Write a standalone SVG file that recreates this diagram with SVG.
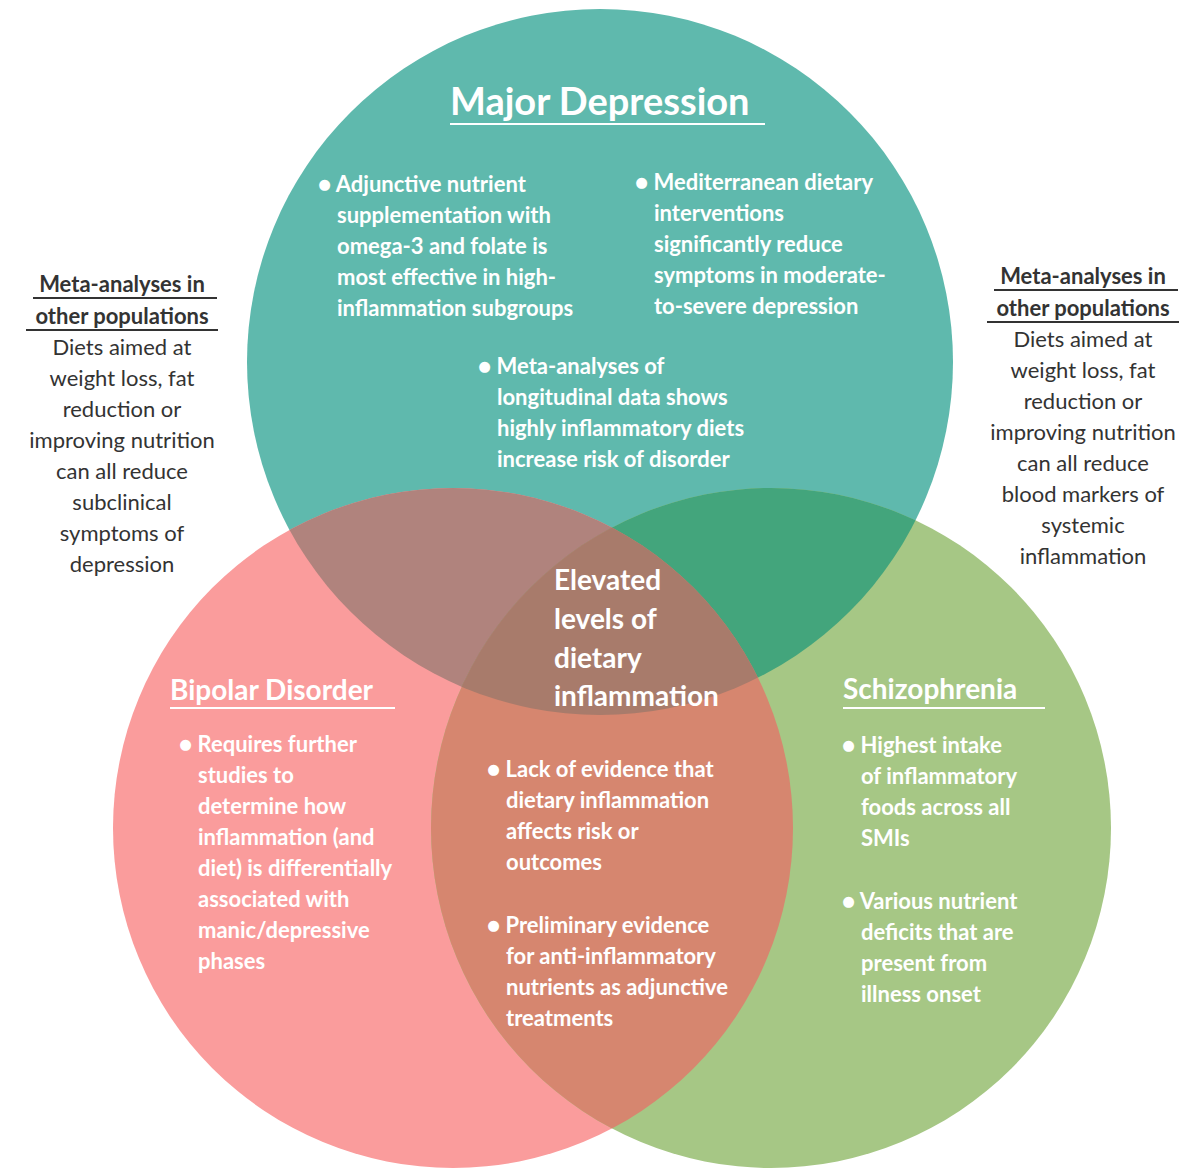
<svg xmlns="http://www.w3.org/2000/svg" width="1200" height="1173" viewBox="0 0 1200 1173">
<style>
.w{font-family:Lato,"Open Sans",sans-serif;font-weight:bold;fill:#fff;font-size:22px}
.h{font-family:Lato,"Open Sans",sans-serif;font-weight:bold;fill:#fff;font-size:28px}
.s{font-family:Lato,"Open Sans",sans-serif;fill:#333;font-size:22px;text-anchor:middle}
.sb{font-weight:bold}
.u{stroke:#fff;stroke-width:2}
.ud{stroke:#333;stroke-width:2}
</style>
<defs>
<clipPath id="cA"><circle cx="600" cy="362" r="353"/></clipPath>
<clipPath id="cB"><circle cx="453" cy="828" r="340"/></clipPath>
<clipPath id="cC"><circle cx="771" cy="828" r="340"/></clipPath>
</defs>
<rect width="1200" height="1173" fill="#fff"/>
<g id="circles">
<circle cx="600" cy="362" r="353" fill="#5fb9ad"/>
<circle cx="453" cy="828" r="340" fill="#fa9c9c"/>
<circle cx="771" cy="828" r="340" fill="#a6c785"/>
<g clip-path="url(#cA)"><circle cx="453" cy="828" r="340" fill="#b0837d"/><circle cx="771" cy="828" r="340" fill="#43a57c"/></g>
<g clip-path="url(#cB)"><circle cx="771" cy="828" r="340" fill="#d6866f"/></g>
<g clip-path="url(#cA)"><g clip-path="url(#cB)"><circle cx="771" cy="828" r="340" fill="#a87b6b"/></g></g>
</g>
<g id="major-depression">
<text x="450" y="115" class="h" style="font-size:38px">Major Depression</text>
<line x1="450" y1="124" x2="765" y2="124" class="u"/>
<text class="w"><tspan x="318" y="192">● Adjunctive nutrient</tspan><tspan x="337" y="223">supplementation with</tspan><tspan x="337" y="254">omega-3 and folate is</tspan><tspan x="337" y="285">most effective in high-</tspan><tspan x="337" y="316">inflammation subgroups</tspan></text>
<text class="w"><tspan x="635" y="190">● Mediterranean dietary</tspan><tspan x="654" y="221">interventions</tspan><tspan x="654" y="252">significantly reduce</tspan><tspan x="654" y="283">symptoms in moderate-</tspan><tspan x="654" y="314">to-severe depression</tspan></text>
<text class="w"><tspan x="478" y="374">● Meta-analyses of</tspan><tspan x="497" y="405">longitudinal data shows</tspan><tspan x="497" y="436">highly inflammatory diets</tspan><tspan x="497" y="467">increase risk of disorder</tspan></text>
</g>
<g id="center">
<text class="h"><tspan x="554" y="590">Elevated</tspan><tspan x="554" y="629">levels of</tspan><tspan x="554" y="668">dietary</tspan><tspan x="554" y="706">inflammation</tspan></text>
<text class="w"><tspan x="487" y="777">● Lack of evidence that</tspan><tspan x="506" y="808">dietary inflammation</tspan><tspan x="506" y="839">affects risk or</tspan><tspan x="506" y="870">outcomes</tspan></text>
<text class="w"><tspan x="487" y="933">● Preliminary evidence</tspan><tspan x="506" y="964">for anti-inflammatory</tspan><tspan x="506" y="995">nutrients as adjunctive</tspan><tspan x="506" y="1026">treatments</tspan></text>
</g>
<g id="bipolar">
<text x="170" y="700" class="h">Bipolar Disorder</text>
<line x1="170" y1="708" x2="395" y2="708" class="u"/>
<text class="w"><tspan x="179" y="752">● Requires further</tspan><tspan x="198" y="783">studies to</tspan><tspan x="198" y="814">determine how</tspan><tspan x="198" y="845">inflammation (and</tspan><tspan x="198" y="876">diet) is differentially</tspan><tspan x="198" y="907">associated with</tspan><tspan x="198" y="938">manic/depressive</tspan><tspan x="198" y="969">phases</tspan></text>
</g>
<g id="schizophrenia">
<text x="843" y="699" class="h">Schizophrenia</text>
<line x1="843" y1="708" x2="1045" y2="708" class="u"/>
<text class="w"><tspan x="842" y="753">● Highest intake</tspan><tspan x="861" y="784">of inflammatory</tspan><tspan x="861" y="815">foods across all</tspan><tspan x="861" y="846">SMIs</tspan></text>
<text class="w"><tspan x="842" y="909">● Various nutrient</tspan><tspan x="861" y="940">deficits that are</tspan><tspan x="861" y="971">present from</tspan><tspan x="861" y="1002">illness onset</tspan></text>
</g>
<g id="left-note">
<text class="s"><tspan x="122" y="292" class="sb">Meta-analyses in</tspan><tspan x="122" y="324" class="sb">other populations</tspan><tspan x="122" y="355">Diets aimed at</tspan><tspan x="122" y="386">weight loss, fat</tspan><tspan x="122" y="417">reduction or</tspan><tspan x="122" y="448">improving nutrition</tspan><tspan x="122" y="479">can all reduce</tspan><tspan x="122" y="510">subclinical</tspan><tspan x="122" y="541">symptoms of</tspan><tspan x="122" y="572">depression</tspan></text>
<line x1="33" y1="298" x2="217" y2="298" class="ud"/>
<line x1="26" y1="330" x2="218" y2="330" class="ud"/>
</g>
<g id="right-note">
<text class="s"><tspan x="1083" y="284" class="sb">Meta-analyses in</tspan><tspan x="1083" y="316" class="sb">other populations</tspan><tspan x="1083" y="347">Diets aimed at</tspan><tspan x="1083" y="378">weight loss, fat</tspan><tspan x="1083" y="409">reduction or</tspan><tspan x="1083" y="440">improving nutrition</tspan><tspan x="1083" y="471">can all reduce</tspan><tspan x="1083" y="502">blood markers of</tspan><tspan x="1083" y="533">systemic</tspan><tspan x="1083" y="564">inflammation</tspan></text>
<line x1="994" y1="290" x2="1178" y2="290" class="ud"/>
<line x1="987" y1="322" x2="1179" y2="322" class="ud"/>
</g>
<g id="connectors"/>
</svg>
